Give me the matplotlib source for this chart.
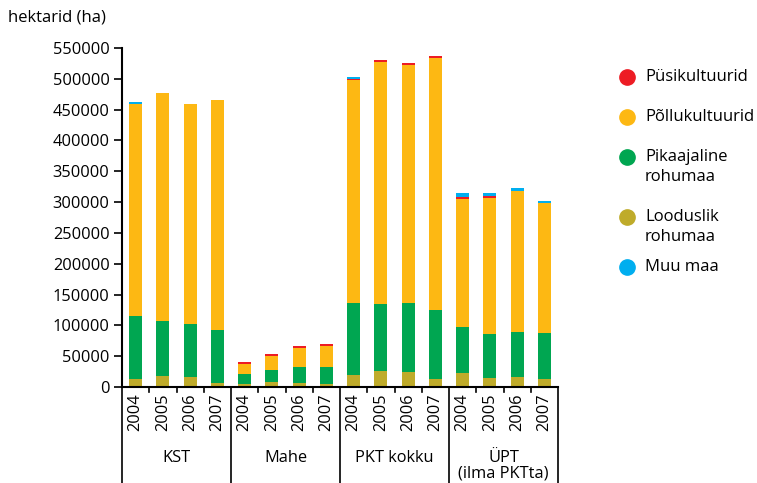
import matplotlib.pyplot as plt
from matplotlib.lines import Line2D
import numpy as np

plt.rcParams['font.family'] = ['Open Sans', 'DejaVu Sans']

groups = ['KST', 'Mahe', 'PKT kokku', 'ÜPT\n(ilma PKTta)']
years = ['2004', '2005', '2006', '2007']

# hektarid, kihid alt üles
looduslik = [13000, 17900, 16200, 6500,
             4900, 8100, 6500, 4900,
             19500, 26000, 24300, 13000,
             22700, 14600, 16200, 13000]
pikaajaline = [102200, 89200, 86000, 86000,
               16200, 19500, 26000, 27600,
               116800, 108700, 112000, 112000,
               74700, 71400, 73100, 74600]
pollu = [344100, 370100, 357100, 373300,
         16200, 22700, 30800, 34000,
         362000, 392800, 386300, 409000,
         207700, 220700, 228800, 211000]
pusi = [0, 0, 0, 0,
        3300, 3300, 3200, 3300,
        1600, 3200, 3300, 3200,
        3300, 3300, 0, 0]
muu = [3300, 0, 0, 0,
       0, 0, 0, 0,
       3200, 0, 0, 0,
       6500, 4900, 4900, 3300]

series = [
    ("Looduslik\nrohumaa", looduslik, "#bfab2a"),
    ("Pikaajaline\nrohumaa", pikaajaline, "#00a651"),
    ("Põllukultuurid", pollu, "#fdb813"),
    ("Püsikultuurid", pusi, "#ed1c24"),
    ("Muu maa", muu, "#00aeef"),
]

fig = plt.figure(figsize=(7.57, 4.83), dpi=100)
ax = fig.add_axes([122 / 757, 1 - 387 / 483, 436 / 757, 339 / 483])

x = np.arange(len(looduslik))
bottom = np.zeros(len(x))
for name, vals, col in series:
    ax.bar(x, vals, width=0.48, bottom=bottom, color=col)
    bottom += np.array(vals)

ax.set_xlim(-0.5, len(x) - 0.5)
ax.set_ylim(0, 550000)
ax.set_yticks(np.arange(0, 550001, 50000))
ax.tick_params(axis='y', labelsize=11.8, length=6, width=1.2, direction='out', pad=3)
for s in ['top', 'right']:
    ax.spines[s].set_visible(False)
ax.spines['left'].set_linewidth(1.5)
ax.spines['bottom'].set_linewidth(1.5)

# x telg: aastad ja grupid
ax.set_xticks([])
for i in range(len(x)):
    ax.text(x[i], -0.018, years[i % 4], transform=ax.get_xaxis_transform(),
            rotation=90, ha='center', va='top', fontsize=11.8)
for i in range(1, len(x)):
    if i % 4 != 0:
        ax.add_line(Line2D([i - 0.5, i - 0.5], [0, -0.015], color='black', lw=1.2,
                           transform=ax.get_xaxis_transform(), clip_on=False))
for i in range(0, len(x) + 1, 4):
    ax.add_line(Line2D([i - 0.5, i - 0.5], [0, -0.3], color='black', lw=1.2,
                       transform=ax.get_xaxis_transform(), clip_on=False))
for g, name in enumerate(groups):
    ax.text(g * 4 + 1.5, -0.185, name, transform=ax.get_xaxis_transform(),
            ha='center', va='top', fontsize=11.8, linespacing=1.0)

fig.text(8 / 757, 1 - 18 / 483, "hektarid (ha)", fontsize=12, va='center', ha='left')

# legend
leg_y = [77, 117, 167, 227, 267]
leg_items = [series[3], series[2], series[1], series[0], series[4]]
for (name, vals, col), yy in zip(leg_items, leg_y):
    first_line = yy if '\n' not in name else yy - 10
    fig.add_artist(Line2D([627 / 757], [1 - first_line / 483], marker='o', markersize=11,
                          color=col, linestyle='none', transform=fig.transFigure))
    fig.text(645 / 757, 1 - yy / 483, name, fontsize=12, va='center', ha='left', linespacing=1.3)

plt.savefig("out.png", dpi=100)
